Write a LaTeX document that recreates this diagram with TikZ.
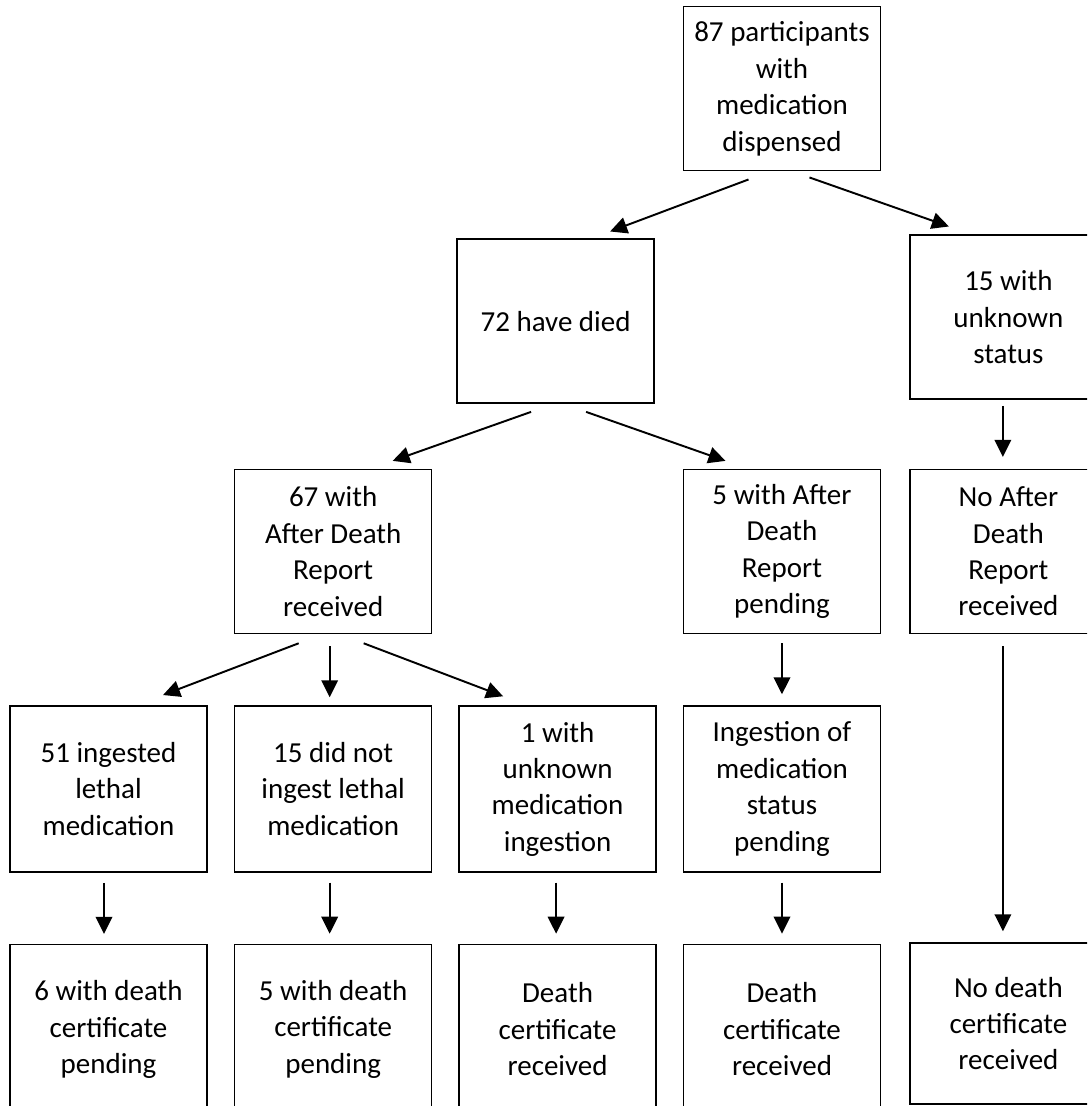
\documentclass[tikz,border=0pt]{standalone}
\usepackage{fontspec}
\setmainfont{Carlito}
\usetikzlibrary{arrows.meta,positioning}

\begin{document}
\begin{tikzpicture}[
  >=Stealth,
  % --- Styles ---
  stage/.style={
    rectangle, draw=black, line width=0.8pt, fill=white,
    minimum width=39.4mm, minimum height=32.8mm,
    inner sep=2pt, align=center,
    font=\fontsize{16.5}{20.7}\selectfont
  },
  tall/.style={minimum height=33.2mm},
  outcome/.style={minimum height=34mm},
  arrow/.style={-{Triangle[length=3.4mm,width=3.3mm]}, line width=1.1pt}
]

% ---- Page area (right column and bottom row run off the page) ----
\useasboundingbox (-21.7mm,-63.4mm) rectangle (195.7mm,157.8mm);
\clip (-21.7mm,-63.4mm) rectangle (195.7mm,157.8mm);

% ---- Third row: ingestion ----
\node[stage, tall, line width=1.1pt] (ingest) at (0,0) {51 ingested\\lethal\\medication};
\node[stage, tall, right=5.2mm of ingest]    (noingest)  {15 did not\\ingest lethal\\medication};
\node[stage, tall, right=5.2mm of noingest]  (unkingest) {1 with\\unknown\\medication\\ingestion};
\node[stage, tall, right=5.2mm of unkingest] (ingpend)   {Ingestion of\\medication\\status\\pending};

% ---- Second row: After Death Report ----
\node[stage, above=14.2mm of noingest] (adr)     {67 with\\After Death\\Report\\received};
\node[stage, above=14.2mm of ingpend]  (adrpend) {5 with After\\Death\\Report\\pending};
\node[stage, right=5.6mm of adrpend]   (noadr)   {No After\\Death\\Report\\received};

% ---- First row and top ----
\node[stage, above right=13mm and 4.8mm of adr]    (died)    {72 have died};
\node[stage, above=13.8mm of noadr]                (unkstat) {15 with\\unknown\\status};
\node[stage, above right=13.4mm and 5.6mm of died] (disp)    {87 participants\\with\\medication\\dispensed};

% ---- Bottom row: death certificates ----
\node[stage, outcome, below=14.2mm of ingest]    (cert1) {6 with death\\certificate\\pending};
\node[stage, outcome, below=14.2mm of noingest]  (cert2) {5 with death\\certificate\\pending};
\node[stage, outcome, below=14.2mm of unkingest] (cert3) {Death\\certificate\\received};
\node[stage, outcome, below=14.2mm of ingpend]   (cert4) {Death\\certificate\\received};
\node[stage, minimum height=32.2mm, below=61.6mm of noadr] (cert5) {No death\\certificate\\received};

% ---- Top splits ----
\draw[arrow] ([xshift=-6.7mm,yshift=-1.6mm]disp.south) -- ([xshift=10.9mm,yshift=1.4mm]died.north);
\draw[arrow] ([xshift=5.5mm,yshift=-1.2mm]disp.south) -- ([xshift=-11.9mm,yshift=1.6mm]unkstat.north);
\draw[arrow] ([xshift=-4.9mm,yshift=-1.6mm]died.south) -- ([xshift=11.9mm,yshift=1.6mm]adr.north);
\draw[arrow] ([xshift=6.1mm,yshift=-1.6mm]died.south) -- ([xshift=-11.3mm,yshift=1.6mm]adrpend.north);
\draw[arrow] ([xshift=-1.1mm,yshift=-1.2mm]unkstat.south) -- ([xshift=-1.1mm,yshift=2.4mm]noadr.north);

% ---- Report outcomes ----
\draw[arrow] ([xshift=-6.9mm,yshift=-1.8mm]adr.south) -- ([xshift=10.9mm,yshift=2mm]ingest.north);
\draw[arrow] ([xshift=-0.7mm,yshift=-2.4mm]adr.south) -- ([xshift=-0.7mm,yshift=1.6mm]noingest.north);
\draw[arrow] ([xshift=6.1mm,yshift=-1.8mm]adr.south) -- ([xshift=-10.9mm,yshift=1.8mm]unkingest.north);
\draw[arrow] ([yshift=-1.8mm]adrpend.south) -- ([yshift=2.2mm]ingpend.north);
\draw[arrow] ([xshift=-1.1mm,yshift=-2.4mm]noadr.south) -- ([xshift=-1.1mm,yshift=2.2mm]cert5.north);

% ---- Down to certificates ----
\foreach \a/\b/\dx in {ingest/cert1/-0.9mm, noingest/cert2/-0.7mm, unkingest/cert3/-0.3mm, ingpend/cert4/0mm}
  \draw[arrow] ([xshift=\dx,yshift=-2mm]\a.south) -- ([xshift=\dx,yshift=2mm]\b.north);

\end{tikzpicture}
\end{document}
